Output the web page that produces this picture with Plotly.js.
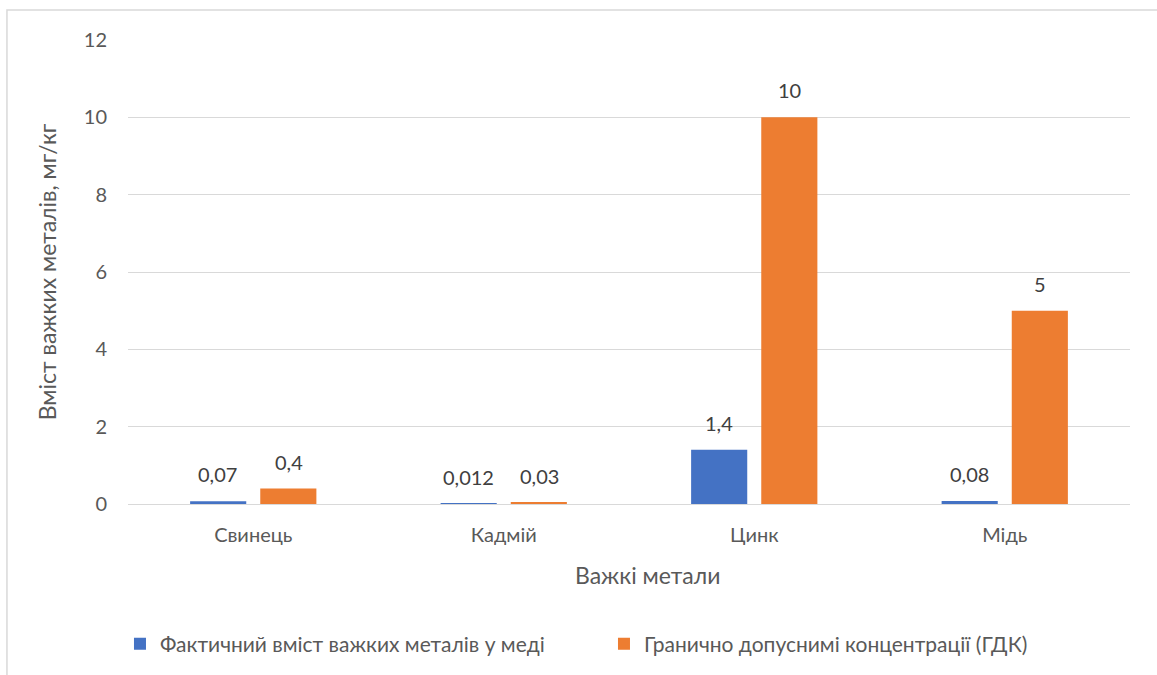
<!DOCTYPE html>
<html>
<head>
<meta charset="utf-8">
<script src="https://cdn.plot.ly/plotly-3.0.1.min.js"></script>
<style>
  html, body { margin: 0; padding: 0; background: #ffffff; }
  #chart { width: 1157px; height: 675px; }
</style>
</head>
<body>
<div id="chart"></div>
<script>
// Heavy metals: measured content vs. maximum permissible concentration, mg/kg
const metals = ["Свинець", "Кадмій", "Цинк", "Мідь"];
const actualValues = [0.07, 0.012, 1.4, 0.08];
const limitValues = [0.4, 0.03, 10, 5];
const seriesNames = ["Фактичний вміст важких металів у меді", "Гранично допуснимі концентрації (ГДК)"];
const yTicks = [0, 2, 4, 6, 8, 10, 12];
const xTitle = "Важкі метали";
const yTitle = "Вміст важких металів, мг/кг";

const BLUE = "#4472C4";
const ORANGE = "#ED7D31";
const FONT = "Lato, 'Open Sans', sans-serif";

// decimal comma, as written in Ukrainian
const fmt = v => String(v).replace(".", ",");

const traces = [
  {
    type: "bar",
    name: seriesNames[0],
    x: metals,
    y: actualValues,
    marker: { color: BLUE },
    hoverinfo: "x+y"
  },
  {
    type: "bar",
    name: seriesNames[1],
    x: metals,
    y: limitValues,
    marker: { color: ORANGE },
    hoverinfo: "x+y"
  }
];

// value labels above each bar
const annotations = [];
const series = [actualValues, limitValues];
series.forEach((vals, s) => {
  vals.forEach((v, i) => {
    annotations.push({
      x: metals[i],
      y: v,
      xref: "x",
      yref: "y",
      text: fmt(v),
      showarrow: false,
      xanchor: "center",
      yanchor: "bottom",
      xshift: s === 0 ? -35.5 : 35.5,
      yshift: 13,
      font: { family: FONT, size: 20, color: "#404040" }
    });
  });
});

// category axis caption, set slightly right of centre
annotations.push({
  xref: "paper",
  yref: "paper",
  x: 0.5185,
  y: -0.119,
  xanchor: "center",
  yanchor: "top",
  showarrow: false,
  text: xTitle,
  font: { family: FONT, size: 23, color: "#595959" }
});

const layout = {
  width: 1157,
  height: 675,
  margin: { l: 128, r: 27, t: 40, b: 171, autoexpand: false },
  paper_bgcolor: "#ffffff",
  plot_bgcolor: "#ffffff",
  font: { family: FONT, color: "#595959", size: 20 },
  barmode: "group",
  bargap: 0.44,
  bargroupgap: 0.2,
  showlegend: true,
  legend: {
    orientation: "h",
    x: -0.008,
    xanchor: "left",
    y: -0.258,
    yanchor: "top",
    font: { family: FONT, size: 21, color: "#595959" },
    entrywidth: 439,
    entrywidthmode: "pixels",
    itemclick: false,
    itemdoubleclick: false
  },
  xaxis: {
    type: "category",
    automargin: false,
    showgrid: false,
    showline: true,
    linecolor: "#D9D9D9",
    linewidth: 1,
    ticks: "",
    ticklabelstandoff: 13,
    tickfont: { family: FONT, size: 20, color: "#595959" }
  },
  yaxis: {
    range: [0, 12],
    automargin: false,
    tickvals: yTicks,
    ticktext: yTicks.map(fmt),
    showgrid: true,
    gridcolor: "#D9D9D9",
    gridwidth: 1,
    zeroline: false,
    showline: false,
    ticks: "",
    ticklabelstandoff: 20,
    tickfont: { family: FONT, size: 20, color: "#595959" },
    title: {
      text: yTitle,
      font: { family: FONT, size: 23, color: "#595959" },
      standoff: 20
    }
  },
  annotations: annotations,
  shapes: [
    {
      type: "rect",
      xref: "paper",
      yref: "paper",
      x0: -0.1208,
      x1: 1.04,
      y0: -0.4,
      y1: 1.0647,
      line: { color: "#D9D9D9", width: 1.5 },
      fillcolor: "rgba(0,0,0,0)",
      layer: "below"
    }
  ]
};

Plotly.newPlot("chart", traces, layout, { displayModeBar: false });
</script>
</body>
</html>
